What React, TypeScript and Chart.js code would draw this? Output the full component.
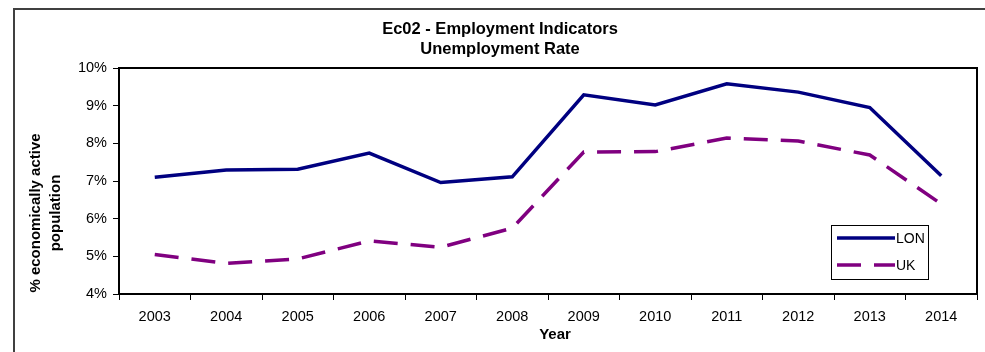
import React, { useEffect, useRef } from "react";
import { Chart, registerables } from "chart.js";
Chart.register(...registerables);

const years = ["2003", "2004", "2005", "2006", "2007", "2008", "2009", "2010", "2011", "2012", "2013", "2014"];
const lonRate = [7.1, 7.29, 7.31, 7.74, 6.96, 7.11, 9.29, 9.02, 9.58, 9.36, 8.95, 7.14];
const ukRate = [5.05, 4.81, 4.93, 5.41, 5.24, 5.75, 7.77, 7.78, 8.14, 8.06, 7.69, 6.39];
const seriesLabels = ["LON", "UK"];
const yMin = 4;
const yMax = 10;
const titleLines = ["Ec02 - Employment Indicators", "Unemployment Rate"];
const yTitleLines = ["% economically active", "population"];
const xTitle = "Year";

const FONT = "'Liberation Sans', Arial, Helvetica, sans-serif";

const decor = {
  id: "decor",
  beforeDraw(chart: any) {
    const ctx = chart.ctx;
    ctx.save();
    ctx.fillStyle = "#ffffff";
    ctx.fillRect(0, 0, chart.width, chart.height);
    ctx.restore();
  },
  afterDraw(chart: any) {
    const ctx = chart.ctx;
    const { left, top, right, bottom } = chart.chartArea;
    ctx.save();
    // outer frame
    ctx.strokeStyle = "#404040";
    ctx.lineWidth = 2;
    ctx.beginPath();
    ctx.moveTo(14, chart.height);
    ctx.lineTo(14, 9);
    ctx.lineTo(chart.width, 9);
    ctx.stroke();
    // plot frame
    ctx.strokeStyle = "#000000";
    ctx.lineWidth = 2;
    ctx.strokeRect(left, top, right - left, bottom - top);

    // y axis title
    const yt = chart.options.scales.y.title.text as string[];
    ctx.fillStyle = "#000";
    ctx.font = `bold 15px ${FONT}`;
    ctx.textAlign = "center";
    ctx.textBaseline = "middle";
    ctx.save();
    ctx.translate(36, 213);
    ctx.rotate(-Math.PI / 2);
    ctx.fillText(yt[0], 0, 0);
    ctx.restore();
    ctx.save();
    ctx.translate(56, 213);
    ctx.rotate(-Math.PI / 2);
    ctx.fillText(yt[1], 0, 0);
    ctx.restore();

    // x axis title
    const xt = chart.options.scales.x.title.text as string;
    ctx.font = `bold 15px ${FONT}`;
    ctx.fillText(xt, 555, 335);

    // legend
    const bx = 831.5, by = 225.5, bw = 97, bh = 54;
    ctx.fillStyle = "#fff";
    ctx.fillRect(bx, by, bw, bh);
    ctx.strokeStyle = "#000";
    ctx.lineWidth = 1;
    ctx.strokeRect(bx, by, bw, bh);
    const ds = chart.data.datasets;
    const rows = [238, 265];
    ds.forEach((d: any, i: number) => {
      const y = rows[i];
      ctx.save();
      ctx.strokeStyle = d.borderColor;
      ctx.lineWidth = d.borderWidth;
      ctx.setLineDash(d.borderDash || []);
      ctx.beginPath();
      ctx.moveTo(837, y);
      ctx.lineTo(895, y);
      ctx.stroke();
      ctx.restore();
      ctx.fillStyle = "#000";
      ctx.font = `14px ${FONT}`;
      ctx.textAlign = "left";
      ctx.textBaseline = "middle";
      ctx.fillText(d.label, 896, y + 1);
    });
    ctx.restore();
  },
};

export default function App() {
  const ref = useRef<HTMLCanvasElement>(null);
  useEffect(() => {
    if (!ref.current) return;
    const chart = new Chart(ref.current, {
      type: "line",
      data: {
        labels: years,
        datasets: [
          {
            label: seriesLabels[0],
            data: lonRate,
            borderColor: "#000080",
            backgroundColor: "#000080",
            borderWidth: 3.5,
            pointRadius: 0,
            tension: 0,
          },
          {
            label: seriesLabels[1],
            data: ukRate,
            borderColor: "#800080",
            backgroundColor: "#800080",
            borderWidth: 3.5,
            borderDash: [24, 13],
            pointRadius: 0,
            tension: 0,
          },
        ],
      },
      plugins: [decor],
      options: {
        responsive: false,
        animation: false,
        layout: { padding: { left: 23, right: 8, top: 0, bottom: 0 } },
        plugins: {
          legend: { display: false },
          tooltip: { enabled: false },
          title: {
            display: true,
            text: titleLines,
            color: "#000",
            font: { size: 16.5, weight: "bold", family: FONT, lineHeight: 1.2 },
            padding: { top: 20, bottom: 8.4 },
          },
        },
        scales: {
          x: {
            type: "category",
            offset: true,
            title: { display: false, text: xTitle },
            grid: {
              offset: true,
              drawOnChartArea: false,
              drawTicks: true,
              tickLength: 6,
              color: "#000",
              lineWidth: 1,
            },
            border: { display: true, color: "#000", width: 2 },
            ticks: {
              color: "#000",
              font: { size: 14.5, family: FONT },
              padding: 8,
              maxRotation: 0,
              autoSkip: false,
            },
            afterFit(scale: any) {
              scale.height = 58;
            },
          },
          y: {
            min: yMin,
            max: yMax,
            title: { display: false, text: yTitleLines },
            grid: {
              drawOnChartArea: false,
              drawTicks: true,
              tickLength: 6,
              color: "#000",
              lineWidth: 1,
            },
            border: { display: true, color: "#000", width: 2 },
            ticks: {
              stepSize: 1,
              color: "#000",
              font: { size: 14.5, family: FONT },
              padding: 6,
              callback: (v: any) => `${v}%`,
            },
            afterFit(scale: any) {
              scale.width = 96;
            },
          },
        },
      },
    } as any);
    return () => chart.destroy();
  }, []);
  return (
    <div style={{ position: "absolute", left: 0, top: 0, width: 985, height: 352 }}>
      <canvas ref={ref} width={985} height={352} />
    </div>
  );
}
